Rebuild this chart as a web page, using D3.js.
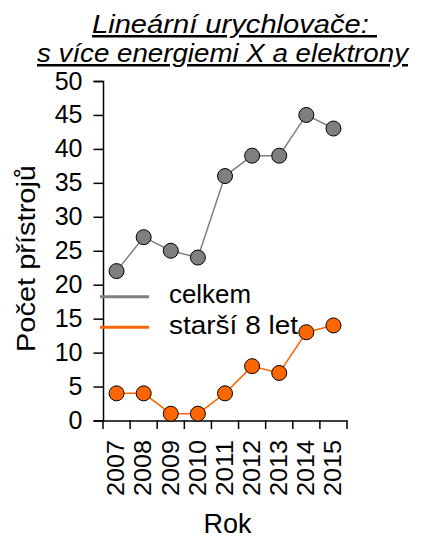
<!DOCTYPE html>
<html><head><meta charset="utf-8">
<script src="https://cdn.jsdelivr.net/npm/d3@7"></script>
<style>body{margin:0;background:#fff}svg{display:block;font-family:"Liberation Sans",Arial,sans-serif}</style>
</head><body><svg id="c" width="434" height="540"></svg>
<script>
const years = ["2007","2008","2009","2010","2011","2012","2013","2014","2015"];
const celkem = [22,27,25,24,36,39,39,45,43];
const starsi = [4,4,1,1,4,8,7,13,14];
const yTicks = [0,5,10,15,20,25,30,35,40,45,50];
const seriesNames = ["celkem","starší 8 let"];
const seriesColors = ["#7f7f7f","#ff6600"];
const legendLengths = [82,129];

const svg = d3.select("#c");
const x = d3.scaleBand().domain(years).range([103,347]);
const y = d3.scaleLinear().domain([0,50]).range([420.5,81]);

// title
svg.append("text").attr("x",92).attr("y",33).attr("font-size",25).attr("font-style","italic")
  .attr("text-decoration","underline").attr("textLength",285).attr("lengthAdjust","spacingAndGlyphs")
  .attr("xml:space","preserve").style("white-space","pre").text("Lineární urychlovače: ");
svg.append("text").attr("x",37).attr("y",62).attr("font-size",25).attr("font-style","italic")
  .attr("text-decoration","underline").attr("textLength",371).attr("lengthAdjust","spacingAndGlyphs")
  .text("s více energiemi X a elektrony");

// y axis
const ya = svg.append("g").attr("transform","translate(103,0)")
  .call(d3.axisLeft(y).tickValues(yTicks).tickSize(9.5).tickPadding(11).tickFormat(d3.format("d")));
ya.select(".domain").attr("stroke","#000").attr("stroke-width",1.5);
ya.selectAll(".tick line").attr("stroke","#000").attr("stroke-width",1.5);
ya.selectAll("text").attr("font-size",25).attr("fill","#000").attr("font-family","Liberation Sans, Arial, sans-serif");

// x axis
const xa = svg.append("g").attr("transform","translate(0,420.5)")
  .call(d3.axisBottom(x).tickSize(0).tickPadding(0));
xa.select(".domain").attr("stroke","#000").attr("stroke-width",1.5);
xa.selectAll(".tick text").attr("font-size",24.5).attr("fill","#000")
  .attr("font-family","Liberation Sans, Arial, sans-serif")
  .attr("textLength",56).attr("lengthAdjust","spacingAndGlyphs")
  .attr("text-anchor","end").attr("transform","translate(-1,19.5) rotate(-90)").attr("dy","0.36em").attr("x",0).attr("y",0);
const bounds = years.map(d=>x(d)).concat([x.range()[1]]);
xa.selectAll(".bt").data(bounds).enter().append("line")
  .attr("x1",d=>d).attr("x2",d=>d).attr("y1",0).attr("y2",8.5).attr("stroke","#000").attr("stroke-width",1.5);

// axis titles
svg.append("text").attr("transform","translate(35,258.5) rotate(-90)").attr("text-anchor","middle")
  .attr("font-size",25).attr("textLength",187).attr("lengthAdjust","spacingAndGlyphs").text("Počet přístrojů");
svg.append("text").attr("x",227.5).attr("y",533).attr("text-anchor","middle").attr("font-size",27).text("Rok");

// series
const cx = d => x(d) + x.bandwidth()/2;
[celkem, starsi].forEach((vals,i)=>{
  const data = years.map((d,j)=>({d,v:vals[j]}));
  svg.append("path").datum(data).attr("fill","none").attr("stroke",seriesColors[i]).attr("stroke-width",1.5)
    .attr("d", d3.line().x(p=>cx(p.d)).y(p=>y(p.v)));
  svg.selectAll(".pt"+i).data(data).enter().append("circle")
    .attr("cx",p=>cx(p.d)).attr("cy",p=>y(p.v)).attr("r",7.5)
    .attr("fill",seriesColors[i]).attr("stroke","#000").attr("stroke-width",1);
});

// legend
const lg = svg.append("g");
seriesNames.forEach((n,i)=>{
  const yy = 296.7 + i*30.6;
  lg.append("line").attr("x1",100).attr("x2",149).attr("y1",yy).attr("y2",yy).attr("stroke",seriesColors[i]).attr("stroke-width",3);
  lg.append("text").attr("x",169).attr("y",yy+6.6).attr("font-size",25.5)
    .attr("textLength",legendLengths[i]).attr("lengthAdjust","spacingAndGlyphs").text(n);
});
</script></body></html>
